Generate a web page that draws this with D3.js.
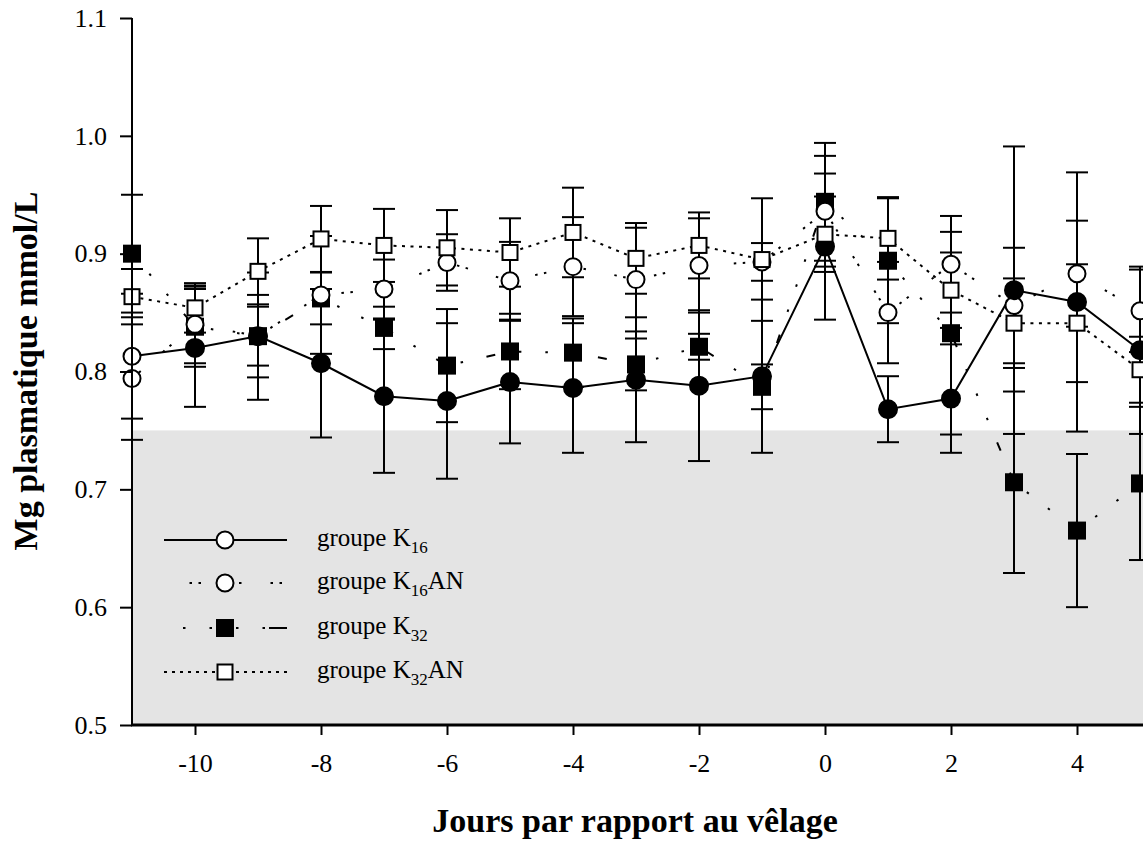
<!DOCTYPE html>
<html><head><meta charset="utf-8">
<script src="https://cdn.jsdelivr.net/npm/d3@7/dist/d3.min.js"></script>
<style>body{margin:0;background:#fff}svg{display:block}text{font-family:"Liberation Serif","Times New Roman",serif;fill:#000}</style>
</head><body><svg id="c" width="1143" height="845"></svg>
<script>
// ---- data ----
const days = [-11,-10,-9,-8,-7,-6,-5,-4,-3,-2,-1,0,1,2,3,4,5];
const k16     = [0.813,0.820,0.830,0.807,0.779,0.775,0.791,0.786,0.793,0.788,0.796,0.906,0.768,0.777,0.869,0.859,0.818];
const k16Err  = [0.053,0.050,0.054,0.063,0.065,0.066,0.052,0.055,0.053,0.064,0.065,0.062,0.028,0.046,0.122,0.110,0.071];
const k16an   = [0.794,0.840,0.830,0.865,0.870,0.8925,0.877,0.889,0.878,0.890,0.893,0.936,0.850,0.891,0.856,0.883,0.8515];
const k16anErr= [0.052,0.033,0.025,0.050,0.025,0.024,0.033,0.042,0.044,0.040,0.016,0.047,0.043,0.041,0.049,0.045,0.035];
const k32     = [0.900,0.838,0.830,0.862,0.837,0.805,0.817,0.816,0.806,0.821,0.787,0.944,0.894,0.8325,0.706,0.665,0.705];
const k32Err  = [0.050,0.034,0.035,0.022,0.018,0.048,0.032,0.029,0.022,0.011,0.019,0.050,0.053,0.086,0.077,0.065,0.065];
const k32an   = [0.8635,0.854,0.885,0.9125,0.907,0.905,0.901,0.918,0.896,0.907,0.895,0.9165,0.913,0.869,0.841,0.841,0.8015];
const k32anErr= [0.0235,0.021,0.028,0.028,0.031,0.032,0.029,0.038,0.030,0.028,0.052,0.032,0.035,0.032,0.038,0.050,0.028];
const xTicks = [-10,-8,-6,-4,-2,0,2,4];
const yTicks = [0.5,0.6,0.7,0.8,0.9,1.0,1.1];
const normalLimit = 0.75;
const seriesNames = ["groupe K16","groupe K16AN","groupe K32","groupe K32AN"];

// ---- chart ----
const W = 1143, H = 845;
const svg = d3.select("#c");
const x = d3.scaleLinear().domain([-11,5]).range([132,1140]);
const y = d3.scaleLinear().domain([0.5,1.1]).range([725,18]);

// gray reference zone
svg.append("rect")
  .attr("x", x(-11)).attr("y", y(normalLimit))
  .attr("width", W - x(-11)).attr("height", y(0.5) - y(normalLimit))
  .attr("fill", "#e4e4e4");

const series = [
  {name:seriesNames[0], vals:k16,   err:k16Err,   marker:"circle", fill:"#000", dash:null},
  {name:seriesNames[1], vals:k16an, err:k16anErr, marker:"circle", fill:"#fff", dash:"2.5,6.5,2.5,29"},
  {name:seriesNames[2], vals:k32,   err:k32Err,   marker:"square", fill:"#000", dash:"2.5,24,2.5,24,2.5,24,9,24"},
  {name:seriesNames[3], vals:k32an, err:k32anErr, marker:"square", fill:"#fff", dash:"3,5.5"}
];

// error bars
const eb = svg.append("g").attr("stroke","#000").attr("stroke-width",2);
series.forEach(s => {
  days.forEach((d,i) => {
    const cx = x(d), top = y(s.vals[i] + s.err[i]), bot = y(s.vals[i] - s.err[i]);
    eb.append("line").attr("x1",cx).attr("x2",cx).attr("y1",top).attr("y2",bot);
    eb.append("line").attr("x1",cx-11).attr("x2",cx+11).attr("y1",top).attr("y2",top);
    eb.append("line").attr("x1",cx-11).attr("x2",cx+11).attr("y1",bot).attr("y2",bot);
  });
});

// lines
const line = d3.line().x(p => x(p[0])).y(p => y(p[1]));
series.forEach(s => {
  svg.append("path")
    .attr("d", line(days.map((d,i)=>[d, s.vals[i]])))
    .attr("fill","none").attr("stroke","#000")
    .attr("stroke-width", 2)
    .attr("stroke-dasharray", s.dash);
});

// markers
function drawMarker(g, type, fill, cx, cy) {
  if (type === "circle") {
    const r = fill === "#000" ? 9 : 8.5;
    g.append("circle").attr("cx",cx).attr("cy",cy).attr("r",r)
      .attr("fill",fill).attr("stroke","#000").attr("stroke-width",2);
  } else {
    const s = fill === "#000" ? 16 : 15;
    g.append("rect").attr("x",cx-s/2).attr("y",cy-s/2).attr("width",s).attr("height",s)
      .attr("fill",fill).attr("stroke","#000").attr("stroke-width",2);
  }
}
const order = [2,1,0,3];
order.forEach(k => {
  const s = series[k];
  const g = svg.append("g");
  days.forEach((d,i) => {
    const f = (k === 0 && i === 0) ? "#fff" : s.fill;
    drawMarker(g, s.marker, f, x(d), y(s.vals[i]));
  });
});

// axes
const yAxis = d3.axisLeft(y).tickValues(yTicks).tickSize(12).tickSizeOuter(0).tickPadding(13)
  .tickFormat(d3.format(".1f"));
const gy = svg.append("g").attr("transform",`translate(${x(-11)},0)`).call(yAxis);
gy.select(".domain").remove();
gy.selectAll(".tick line").attr("stroke-width",2);
gy.selectAll(".tick text").attr("font-size",26).style("font-family","'Liberation Serif',serif");
svg.append("line").attr("x1",x(-11)).attr("x2",x(-11)).attr("y1",y(1.1)).attr("y2",y(0.5))
  .attr("stroke","#000").attr("stroke-width",2);

const xAxis = d3.axisBottom(x).tickValues(xTicks).tickSize(10).tickSizeOuter(0).tickPadding(19)
  .tickFormat(d => String(d));
const gx = svg.append("g").attr("transform",`translate(0,${y(0.5)})`).call(xAxis);
gx.select(".domain").remove();
gx.selectAll(".tick line").attr("stroke-width",2);
gx.selectAll(".tick text").attr("font-size",26).style("font-family","'Liberation Serif',serif");
svg.append("line").attr("x1",x(-11)-1).attr("x2",W).attr("y1",y(0.5)).attr("y2",y(0.5))
  .attr("stroke","#000").attr("stroke-width",3);

// axis titles
svg.append("text").attr("x",635).attr("y",832).attr("text-anchor","middle")
  .attr("font-size",34).attr("font-weight","bold").text("Jours par rapport au vêlage");
svg.append("text").attr("transform","translate(37,371) rotate(-90)").attr("text-anchor","middle")
  .attr("font-size",34).attr("font-weight","bold").text("Mg plasmatique mmol/L");

// legend
const legRows = [540, 583, 628, 672];
const legDash = [null, "2.5,6.5,2.5,29", "2.5,24,2.5,24,2.5,24,2.5,4,19,30", "3,5"];
const legOffset = [0, 15, -19, 0];
const subs = ["16","16","32","32"];
const suffix = ["","AN","","AN"];
series.forEach((s,k) => {
  const ly = legRows[k];
  svg.append("line").attr("x1",164).attr("x2",287).attr("y1",ly).attr("y2",ly)
    .attr("stroke","#000").attr("stroke-width",2)
    .attr("stroke-dasharray", legDash[k]).attr("stroke-dashoffset", legOffset[k]);
  const g = svg.append("g");
  drawMarker(g, s.marker, k===0 ? "#fff" : s.fill, 225, ly);
  const t = svg.append("text").attr("x",317).attr("y",ly+6).attr("font-size",25);
  t.append("tspan").text("groupe K");
  t.append("tspan").attr("dy",7).attr("font-size",17).text(subs[k]);
  if (suffix[k]) t.append("tspan").attr("dy",-7).attr("font-size",25).text(suffix[k]);
});
</script>
</body></html>
